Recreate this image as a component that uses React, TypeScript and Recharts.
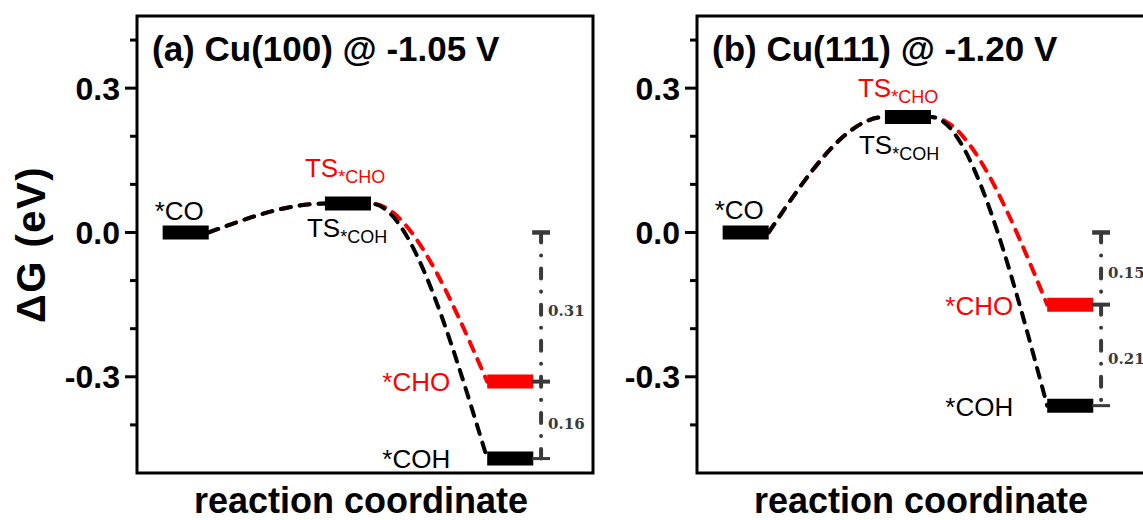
import React from 'react';
import { ComposedChart, Line, Scatter, XAxis, YAxis, ReferenceArea } from 'recharts';

// ---------------- data ----------------
const panelTitles = ['(a) Cu(100) @ -1.05 V', '(b) Cu(111) @ -1.20 V'];
const stepPositions = [1, 2, 3]; // *CO, TS, final state
const coEnergies = [0.0, 0.0];
const tsEnergies = [0.06, 0.24];
const choEnergies = [-0.31, -0.15];
const cohEnergies = [-0.47, -0.36];
const yTickValues = [-0.4, -0.3, -0.2, -0.1, 0, 0.1, 0.2, 0.3, 0.4];
const yMajorValues = [-0.3, 0, 0.3];
const yMajorLabels = ['-0.3', '0.0', '0.3'];
const labelCO = '*CO';
const labelCHO = '*CHO';
const labelCOH = '*COH';
const labelTS = 'TS';
const xAxisTitle = 'reaction coordinate';
const yAxisTitle = 'ΔG (eV)';
const xDomain: [number, number] = [0.7, 3.51];
const yDomain: [number, number] = [-0.5, 0.45];

// ---------------- style ----------------
const HALF = 0.142;
const DIM_X = 3.19;
const CAP_L = 3.135;
const CAP_R = 3.245;
const RED = '#ff0000';
const DIM = '#3a3a3a';
const SANS = '"Liberation Sans", Arial, sans-serif';
const SERIF = '"DejaVu Serif", serif';

const labelOffsets = [
  { co: [-8, -12], tsCHO: [-20, -27], tsCOH: [-18, 33], cho: [-37, 9], coh: [-37, 9] },
  { co: [-8, -13], tsCHO: [-27, -20], tsCOH: [-26, 37], cho: [-34, 10], coh: [-34, 10] },
];

const YTick = (props: any) => {
  const { x, y, payload } = props;
  const v = payload.value;
  const idx = yMajorValues.findIndex((m) => Math.abs(m - v) < 1e-9);
  const major = idx >= 0;
  return (
    <g>
      <line x1={x - (major ? 12 : 7)} x2={x} y1={y} y2={y} stroke="#000" strokeWidth={3} />
      {major && (
        <text x={x - 17} y={y} dy="0.36em" textAnchor="end" fontFamily={SANS} fontWeight="bold" fontSize={32} fill="#000">
          {yMajorLabels[idx]}
        </text>
      )}
    </g>
  );
};

const makeLabelShape = (panel: number) => (props: any) => {
  const { cx, cy, payload } = props;
  const off: any = labelOffsets[panel];
  const k = payload.kind;
  if (k === 'title') {
    return (
      <text x={cx + 15} y={cy + 45} fontFamily={SANS} fontWeight="bold" fontSize={35} fill="#000">
        {panelTitles[panel]}
      </text>
    );
  }
  if (k === 'co') {
    return (
      <text x={cx + off.co[0]} y={cy + off.co[1]} fontFamily={SANS} fontSize={26} fill="#000">{labelCO}</text>
    );
  }
  if (k === 'tsCHO' || k === 'tsCOH') {
    const o = off[k];
    const red = k === 'tsCHO';
    return (
      <text x={cx + o[0]} y={cy + o[1]} fontFamily={SANS} fontSize={26} fill={red ? RED : '#000'}>
        {labelTS}
        <tspan fontSize={18} dy={6}>{red ? labelCHO : labelCOH}</tspan>
      </text>
    );
  }
  if (k === 'cho' || k === 'coh') {
    const o = off[k];
    return (
      <text x={cx + o[0]} y={cy + o[1]} textAnchor="end" fontFamily={SANS} fontSize={26} fill={k === 'cho' ? RED : '#000'}>
        {k === 'cho' ? labelCHO : labelCOH}
      </text>
    );
  }
  if (k === 'gap') {
    return (
      <text x={cx + 7} y={cy + 9} fontFamily={SERIF} fontWeight="bold" fontSize={15} fill={DIM}>
        {payload.text}
      </text>
    );
  }
  return <g />;
};

function Panel({ idx }: { idx: number }) {
  const co = coEnergies[idx];
  const ts = tsEnergies[idx];
  const cho = choEnergies[idx];
  const coh = cohEnergies[idx];
  const [pIS, pTS, pFS] = stepPositions;
  const level = (c: number, e: number) => [
    { x: c - HALF, y: e },
    { x: c + HALF, y: e },
  ];
  const path = (end: number) => [
    { x: pIS + HALF, y: co },
    { x: pTS - HALF, y: ts },
    { x: pTS + HALF, y: ts },
    { x: pFS - HALF, y: end },
  ];
  const cap = (e: number) => [
    { x: CAP_L, y: e },
    { x: CAP_R, y: e },
  ];
  const labels = [
    { x: xDomain[0], y: yDomain[1], kind: 'title' },
    { x: pIS - HALF, y: co, kind: 'co' },
    { x: pTS - HALF, y: ts, kind: 'tsCHO' },
    { x: pTS - HALF, y: ts, kind: 'tsCOH' },
    { x: pFS - HALF, y: cho, kind: 'cho' },
    { x: pFS - HALF, y: coh, kind: 'coh' },
    { x: DIM_X, y: (co + cho) / 2, kind: 'gap', text: (co - cho).toFixed(2) },
    { x: DIM_X, y: (cho + coh) / 2, kind: 'gap', text: (cho - coh).toFixed(2) },
  ];
  const dashed = { strokeWidth: 4, strokeDasharray: '10 9', strokeLinecap: 'round' as const };
  const common = { dataKey: 'y', dot: false, activeDot: false, isAnimationActive: false, legendType: 'none' as const };

  return (
    <ComposedChart width={600} height={520} margin={{ top: 16, right: 7, bottom: 0, left: 0 }}>
      <XAxis
        type="number"
        dataKey="x"
        domain={xDomain}
        tick={false}
        tickLine={false}
        axisLine={false}
        height={47}
        label={{
          content: (p: any) => {
            const vb = p.viewBox || { x: 137, y: 473, width: 456, height: 47 };
            return (
              <text x={vb.x + vb.width / 2 - 4} y={vb.y + vb.height - 7} textAnchor="middle" fontFamily={SANS} fontWeight="bold" fontSize={36} fill="#000">
                {xAxisTitle}
              </text>
            );
          },
        }}
      />
      <YAxis
        type="number"
        dataKey="y"
        domain={yDomain}
        ticks={yTickValues}
        interval={0}
        width={137}
        tickSize={0}
        tickMargin={0}
        tickLine={false}
        axisLine={false}
        tick={(p: any) => <YTick {...p} />}
        label={
          idx === 0
            ? {
                content: (p: any) => {
                  const vb = p.viewBox || { x: 0, y: 16, width: 137, height: 457 };
                  return (
                    <text
                      transform={`translate(${vb.x + 31}, ${vb.y + vb.height / 2}) rotate(-90)`}
                      textAnchor="middle"
                      dy="0.36em"
                      fontFamily={SANS}
                      fontWeight="bold"
                      fontSize={40}
                      letterSpacing={1.5}
                      fill="#000"
                    >
                      {yAxisTitle}
                    </text>
                  );
                },
              }
            : undefined
        }
      />
      <ReferenceArea x1={xDomain[0]} x2={xDomain[1]} y1={yDomain[0]} y2={yDomain[1]} fill="none" stroke="#000" strokeWidth={3} ifOverflow="visible" />

      {/* connectors */}
      <Line {...common} data={path(cho)} type="monotone" stroke={RED} {...dashed} />
      <Line {...common} data={path(coh)} type="monotone" stroke="#000" {...dashed} />

      {/* energy levels */}
      <Line {...common} data={level(pIS, co)} type="linear" stroke="#000" strokeWidth={14} />
      <Line {...common} data={level(pTS, ts)} type="linear" stroke="#000" strokeWidth={14} />
      <Line {...common} data={level(pFS, cho)} type="linear" stroke={RED} strokeWidth={14} />
      <Line {...common} data={level(pFS, coh)} type="linear" stroke="#000" strokeWidth={14} />

      {/* dimension line */}
      <Line
        {...common}
        data={[
          { x: DIM_X, y: co },
          { x: DIM_X, y: coh },
        ]}
        type="linear"
        stroke={DIM}
        strokeWidth={4}
        strokeDasharray="10 13 0.1 13"
        strokeLinecap="round"
      />
      <Line {...common} data={cap(co)} type="linear" stroke={DIM} strokeWidth={4.5} />
      <Line {...common} data={cap(cho)} type="linear" stroke={DIM} strokeWidth={4} />
      <Line {...common} data={cap(coh)} type="linear" stroke={DIM} strokeWidth={3} />

      <Scatter data={labels} dataKey="y" isAnimationActive={false} legendType="none" shape={makeLabelShape(idx)} />
    </ComposedChart>
  );
}

export default function App() {
  return (
    <div style={{ position: 'absolute', left: 0, top: 0, width: 1143, height: 520, overflow: 'hidden', background: '#fff' }}>
      <div style={{ position: 'absolute', left: 0, top: 0 }}>
        <Panel idx={0} />
      </div>
      <div style={{ position: 'absolute', left: 560, top: 0 }}>
        <Panel idx={1} />
      </div>
    </div>
  );
}
